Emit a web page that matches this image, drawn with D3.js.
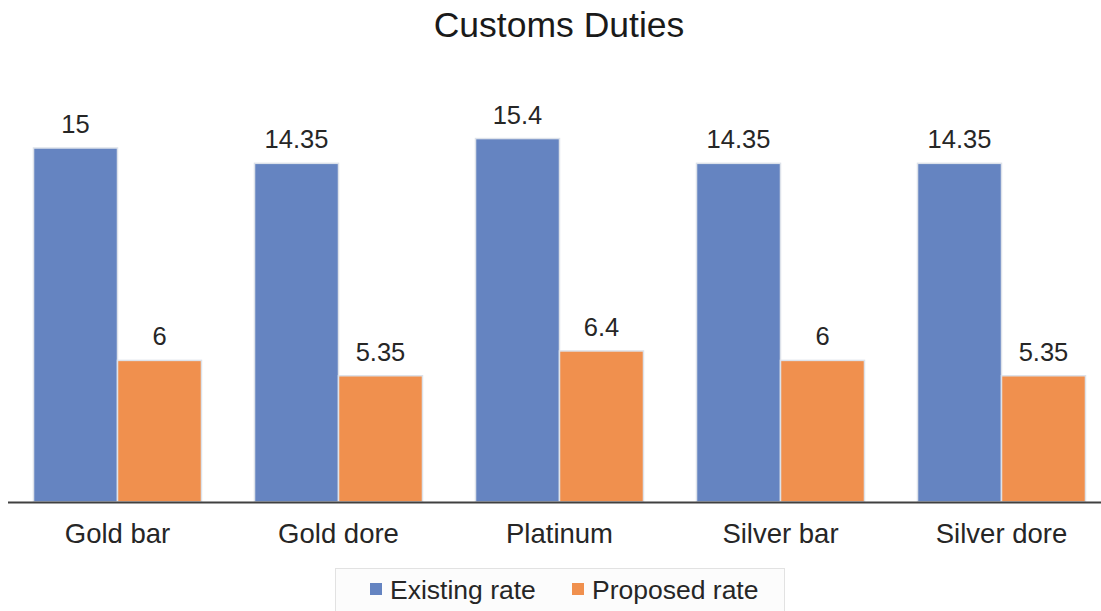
<!DOCTYPE html>
<html>
<head>
<meta charset="utf-8">
<script src="https://cdn.jsdelivr.net/npm/d3@7"></script>
<style>
  html, body { margin: 0; padding: 0; background: #fff; }
  svg { display: block; font-family: "Liberation Sans", Arial, sans-serif; }
</style>
</head>
<body>
<svg id="chart" width="1101" height="611"></svg>
<script>
// Customs duty rates (%) per metal
const categories = ["Gold bar", "Gold dore", "Platinum", "Silver bar", "Silver dore"];
const seriesNames = ["Existing rate", "Proposed rate"];
const existingRate = [15, 14.35, 15.4, 14.35, 14.35];
const proposedRate = [6, 5.35, 6.4, 6, 5.35];
const seriesColors = ["#6584c1", "#f0904e"];

const seriesValues = [existingRate, proposedRate];
const rows = categories.map((c, i) => ({
  category: c,
  values: seriesNames.map((s, k) => ({ series: s, value: seriesValues[k][i], color: seriesColors[k] }))
}));

const svg = d3.select("#chart");
const W = 1101;
const baseY = 502;

const x = d3.scaleBand()
  .domain(categories)
  .range([7, 1112])
  .paddingInner(0.24)
  .paddingOuter(0.12);

const xs = d3.scaleBand()
  .domain(seriesNames)
  .range([0, x.bandwidth()])
  .padding(0);

const y = d3.scaleLinear()
  .domain([0, 16])
  .range([baseY, baseY - 16 * 23.6]);

// Title
svg.append("text")
  .attr("x", 559)
  .attr("y", 37)
  .attr("text-anchor", "middle")
  .attr("font-size", 35.5)
  .attr("fill", "#1a1a1a")
  .text("Customs Duties");

// Bars
const groups = svg.append("g").selectAll("g")
  .data(rows)
  .join("g")
  .attr("transform", d => `translate(${x(d.category)},0)`);

groups.selectAll("rect")
  .data(d => d.values)
  .join("rect")
  .attr("x", d => xs(d.series))
  .attr("y", d => y(d.value))
  .attr("width", xs.bandwidth())
  .attr("height", d => y(0) - y(d.value))
  .attr("fill", d => d.color)
  .attr("stroke", "#dde2ea")
  .attr("stroke-width", 1.5);

// Value labels
groups.selectAll("text")
  .data(d => d.values)
  .join("text")
  .attr("x", d => xs(d.series) + xs.bandwidth() / 2)
  .attr("y", d => y(d.value) - 15)
  .attr("text-anchor", "middle")
  .attr("font-size", 25.5)
  .attr("fill", "#262626")
  .text(d => d.value);

// Category axis
const xAxis = svg.append("g")
  .attr("transform", `translate(0,${baseY})`)
  .call(d3.axisBottom(x).tickSize(0).tickPadding(0));
xAxis.select(".domain").remove();
xAxis.append("line")
  .attr("x1", 8).attr("x2", W)
  .attr("y1", 0.5).attr("y2", 0.5)
  .attr("stroke", "#404040")
  .attr("stroke-width", 2.2);
xAxis.selectAll(".tick text")
  .attr("y", 41)
  .attr("dy", 0)
  .attr("font-size", 27.5)
  .attr("font-family", "Liberation Sans, Arial, sans-serif")
  .attr("fill", "#262626");

// Legend
const legend = svg.append("g");
legend.append("rect")
  .attr("x", 335.5).attr("y", 568.5)
  .attr("width", 449).attr("height", 50)
  .attr("fill", "#fcfcfc")
  .attr("stroke", "#e2e2e2")
  .attr("stroke-width", 1);

const legendX = [370, 572];
const items = legend.selectAll("g.item")
  .data(seriesNames)
  .join("g")
  .attr("class", "item")
  .attr("transform", (d, i) => `translate(${legendX[i]},0)`);
items.append("rect")
  .attr("x", 0).attr("y", 583)
  .attr("width", 12).attr("height", 12)
  .attr("fill", (d, i) => seriesColors[i]);
items.append("text")
  .attr("x", 20).attr("y", 599)
  .attr("font-size", 26.5)
  .attr("fill", "#262626")
  .text(d => d);
</script>
</body>
</html>
